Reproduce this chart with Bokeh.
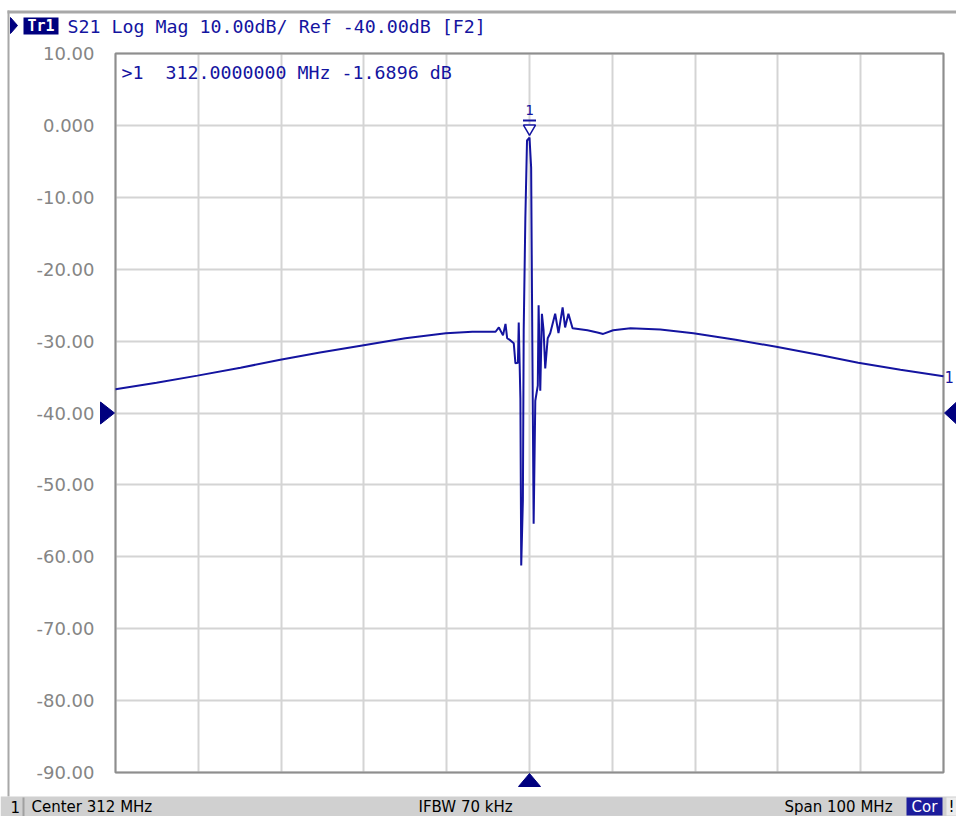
from bokeh.plotting import figure
from bokeh.models import LinearAxis, FixedTicker, Range1d, Grid
from bokeh.core.properties import value
from bokeh.embed import file_html
from bokeh.resources import INLINE

# ---------------- data ----------------
freq_mhz = [262.0, 266.95, 271.9, 277.1, 281.9, 286.7, 291.8, 297.0, 301.9, 305.1,
            307.9, 308.3, 308.8, 309.1, 309.3, 309.7, 310.1, 310.3, 310.6, 310.7,
            310.9, 311.0, 311.2, 311.3, 311.5, 311.7, 312.0, 312.2, 312.3, 312.5,
            312.7, 313.0, 313.1, 313.3, 313.5, 313.7, 313.9, 314.2, 314.5, 315.1,
            315.5, 316.0, 316.3, 316.7, 317.2, 319.0, 320.2, 320.9, 322.1, 324.2,
            327.8, 331.8, 336.9, 341.8, 346.9, 351.7, 356.8, 362.0]
s21_db = [-36.7, -35.8, -34.8, -33.7, -32.6, -31.6, -30.6, -29.6, -28.9, -28.7,
          -28.7, -28.1, -29.2, -27.6, -29.6, -29.9, -30.3, -33.1, -33.0, -27.4,
          -38.0, -61.2, -52.2, -28.5, -12.8, -2.1, -1.69, -5.9, -23.4, -55.4,
          -38.3, -36.2, -25.0, -36.9, -26.2, -28.5, -33.8, -29.6, -28.9, -26.2,
          -28.9, -25.3, -28.1, -26.2, -28.2, -28.5, -28.8, -29.0, -28.5, -28.2,
          -28.4, -28.9, -29.8, -30.8, -31.9, -33.0, -34.0, -34.9]

y_ticks = [10, 0, -10, -20, -30, -40, -50, -60, -70, -80, -90]
y_tick_labels = ["10.00", "0.000", "-10.00", "-20.00", "-30.00", "-40.00",
                 "-50.00", "-60.00", "-70.00", "-80.00", "-90.00"]
x_grid = [262, 272, 282, 292, 302, 312, 322, 332, 342, 352, 362]

center_mhz = 312.0
ref_level = -40.0
marker_freq = 312.0
marker_db = -1.6896

header_text = "S21 Log Mag 10.00dB/ Ref -40.00dB [F2]"
trace_tag = "Tr1"
marker_id = ">1"
marker_text = "312.0000000 MHz -1.6896 dB"
status_channel = "1"
status_center = "Center 312 MHz"
status_ifbw = "IFBW 70 kHz"
status_span = "Span 100 MHz"
status_cor = "Cor"

# ---------------- styles / geometry ----------------
BLUE = "#1414a0"
NAVY = "#00007f"
GRID = "#d4d4d4"
W, H = 956, 816
FL, FR, FT, FB = 115, 943, 53, 772   # pixel edges of the plotting area
X0, X1, Y0, Y1 = 262.0, 362.0, -90.0, 10.0
PXX = (FR - FL) / (X1 - X0)
PXY = (FB - FT) / (Y1 - Y0)

def fx(px):
    return X0 + (px - FL) / PXX

def fy(py):
    return Y1 - (py - FT) / PXY

p = figure(width=W, height=H, output_backend="svg", toolbar_location=None,
           x_range=Range1d(fx(0), fx(W)), y_range=Range1d(fy(H), fy(0)), title=None,
           x_axis_location=None, y_axis_location=None,
           min_border_left=0, min_border_right=0, min_border_top=0, min_border_bottom=0)
p.background_fill_color = "white"
p.border_fill_color = "white"
p.outline_line_color = None
p.grid.visible = False

# ---- backgrounds ----
def box(l, r, t, b, color):
    p.quad(left=[fx(l)], right=[fx(r)], top=[fy(t)], bottom=[fy(b)],
           fill_color=color, line_color=None)

box(7, 956, 10, 13, "#a8a8a8")          # window top edge
box(7, 9, 10, 796, "#a8a8a8")           # window left edge
box(0, 956, 796, 816, "#d0d0d0")        # status bar
box(22, 24, 797, 816, "#a0a0a0")
box(906, 942, 797, 815, "#1c1c9c")      # Cor box
box(946, 956, 797, 815, "#ececec")
box(23, 58, 17, 34, NAVY)               # Tr1 box

# ---- grid ----
if "cross_bounds" in Grid.properties():
    p.add_layout(Grid(dimension=0, ticker=FixedTicker(ticks=x_grid), cross_bounds=(Y0, Y1),
                      grid_line_color=GRID, grid_line_width=2))
    p.add_layout(Grid(dimension=1, ticker=FixedTicker(ticks=y_ticks), cross_bounds=(X0, X1),
                      grid_line_color=GRID, grid_line_width=2))
else:
    p.segment(x0=x_grid, y0=[Y0] * len(x_grid), x1=x_grid, y1=[Y1] * len(x_grid),
              line_color=GRID, line_width=2)
    p.segment(x0=[X0] * len(y_ticks), y0=y_ticks, x1=[X1] * len(y_ticks), y1=y_ticks,
              line_color=GRID, line_width=2)

# plot-area frame
p.quad(left=[X0], right=[X1], top=[Y1], bottom=[Y0], fill_color=None,
       line_color="#8e8e8e", line_width=2)

# y axis (labels only) fixed at the left frame edge
ax = LinearAxis(fixed_location=X0, ticker=FixedTicker(ticks=y_ticks))
ax.axis_line_color = None
ax.major_tick_line_color = None
ax.minor_tick_line_color = None
ax.major_label_standoff = 15
ax.major_label_text_font = "DejaVu Sans"
ax.major_label_text_font_size = "18px"
ax.major_label_text_color = "#858585"
ax.major_label_overrides = {t: l for t, l in zip(y_ticks, y_tick_labels)}
p.add_layout(ax, "left")

# ---- trace ----
p.line(freq_mhz, s21_db, line_color=BLUE, line_width=2)

# marker symbol above the peak
p.scatter([marker_freq], [marker_db + 9 / PXY], marker="inverted_triangle", size=12,
          fill_color="white", line_color=BLUE, line_width=1.5)
p.scatter([marker_freq], [marker_db + 17 / PXY], marker="dash", size=13,
          line_color=BLUE, line_width=2)

def txt(px, py, s, color=BLUE, font="DejaVu Sans Mono", size="18px", align="left",
        style="normal", x=None, y=None):
    p.text(x=[fx(px) if x is None else x], y=[fy(py) if y is None else y], text=[s],
           text_color=color, text_font=value(font), text_font_size=size,
           text_align=align, text_baseline="middle", text_font_style=style)

txt(0, 0, "1", size="14px", align="center", x=marker_freq, y=marker_db + 28 / PXY)

# ---- triangles ----
def tri(xs, ys, color=NAVY):
    p.patch(xs, ys, fill_color=color, line_color=color, line_width=1)

tri([fx(10), fx(17), fx(10)], [fy(17), fy(25), fy(33)])
tri([fx(100), fx(114), fx(100)], [ref_level + 11 / PXY, ref_level, ref_level - 11 / PXY])
tri([fx(956), fx(944), fx(956)], [ref_level + 11 / PXY, ref_level, ref_level - 11 / PXY])
tri([center_mhz - 11 / PXX, center_mhz, center_mhz + 11 / PXX],
    [Y0 - 14 / PXY, Y0 - 1 / PXY, Y0 - 14 / PXY])

# ---- texts ----
txt(40.5, 25.5, trace_tag, color="white", size="15px", align="center", style="bold")
txt(67, 25.5, header_text, size="18.3px")
txt(121, 72, marker_id, size="18.3px")
txt(165, 72, marker_text, size="18.3px")
txt(944, 376, "1", size="15px")

SF = "DejaVu Sans"
txt(10, 806.5, status_channel, color="black", font=SF, size="15px")
txt(31, 806.5, status_center, color="black", font=SF, size="15px")
txt(418, 806.5, status_ifbw, color="black", font=SF, size="15px")
txt(784, 806.5, status_span, color="black", font=SF, size="15px")
txt(924, 806.5, status_cor, color="white", font=SF, size="15px", align="center")
txt(951, 806.5, "!", color="black", font=SF, size="15px", align="center")

open("out.html", "w").write(file_html(p, INLINE))
